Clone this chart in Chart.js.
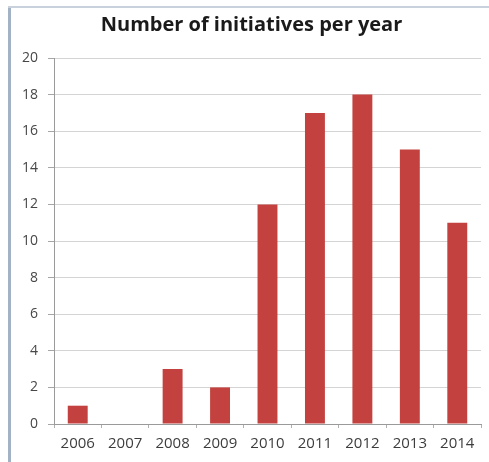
<!DOCTYPE html>
<html>
<head>
<meta charset="utf-8">
<script src="https://cdn.jsdelivr.net/npm/chart.js@4"></script>
<style>
  html, body { margin: 0; padding: 0; background: #fff; }
  #wrap { position: relative; width: 489px; height: 462px; }
  #frameLeft { position: absolute; left: 8px; top: 6px; width: 3px; height: 456px; background: #a3b3c5; }
  #frameTop { position: absolute; left: 8px; top: 6px; width: 481px; height: 2px; background: #c9d2dc; }
  canvas { position: absolute; left: 0; top: 0; }
</style>
</head>
<body>
<div id="wrap">
  <canvas id="chart" width="489" height="462"></canvas>
  <div id="frameLeft"></div>
  <div id="frameTop"></div>
</div>
<script>
const years = ["2006", "2007", "2008", "2009", "2010", "2011", "2012", "2013", "2014"];
const initiatives = [1, 0, 3, 2, 12, 17, 18, 15, 11];
const yMax = 20;
const yStep = 2;

const ctx = document.getElementById('chart').getContext('2d');
new Chart(ctx, {
    type: 'bar',
    data: {
        labels: years,
        datasets: [{ data: initiatives, backgroundColor: '#c3413e', categoryPercentage: 1, barPercentage: 0.42 }]
    },
    options: {
        responsive: false, animation: false,
        layout: { padding: { left: 17, right: 3, top: 6, bottom: 6 } },
        plugins: {
            legend: { display: false },
            tooltip: { enabled: false },
            title: {
                display: true, text: 'Number of initiatives per year', color: '#1a1a1a',
                font: { family: 'Open Sans', size: 20, weight: 'bold' },
                padding: { top: 7, bottom: 21 }
            }
        },
        scales: {
            y: {
                min: 0, max: yMax,
                ticks: { stepSize: yStep, color: '#474747', font: { family: 'Open Sans', size: 14 }, padding: 10 },
                grid: { color: '#d4d4d4', tickColor: '#a6a6a6', tickLength: 6 },
                border: { color: '#9a9a9a' },
                afterFit: s => { s.width = 37; }
            },
            // empty spacer on the right so the title centre matches
            yRight: {
                position: 'right', display: true,
                ticks: { display: false },
                grid: { display: false },
                border: { display: false },
                afterFit: s => { s.width = 5; }
            },
            x: {
                ticks: { color: '#3d3d3d', font: { family: 'Open Sans', size: 15 }, padding: 7 },
                grid: { offset: true, drawOnChartArea: false, tickColor: '#b0b0b0', tickLength: 4 },
                border: { color: '#9a9a9a' },
                afterFit: s => { s.height = 32; }
            }
        }
    }
});
</script>
</body>
</html>
